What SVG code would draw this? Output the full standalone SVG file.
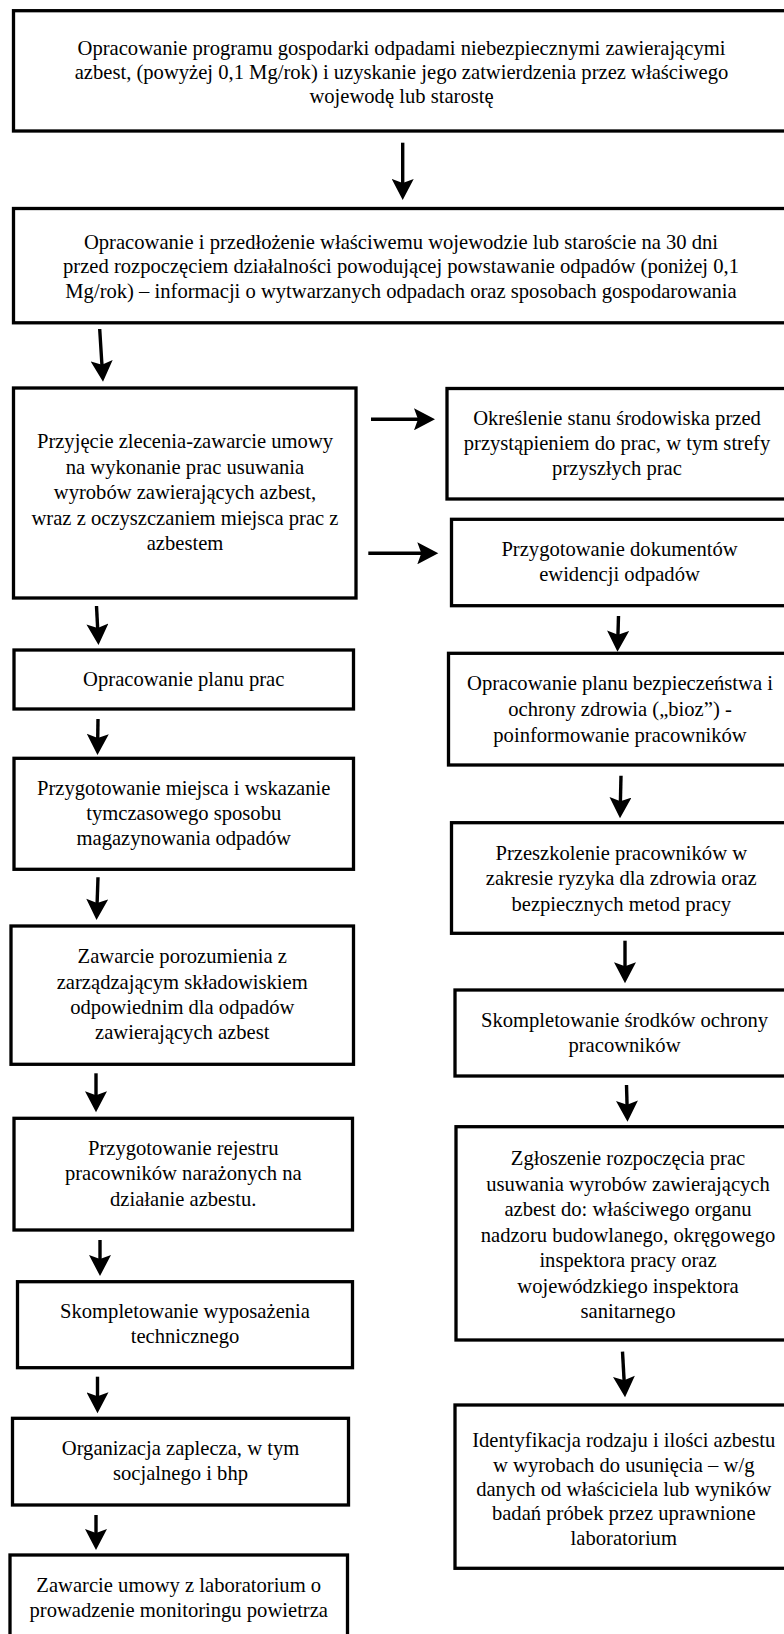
<svg xmlns="http://www.w3.org/2000/svg" width="784" height="1634" viewBox="0 0 784 1634">
<style>
.box{fill:#fff;stroke:#000;stroke-width:3.3}
.t{font-family:"Liberation Serif","Times New Roman",serif;font-size:20.6px;fill:#000;text-anchor:middle}
.c{stroke:#000;stroke-width:3.4;fill:none;marker-end:url(#ah)}
</style>
<defs>
<marker id="ah" markerUnits="userSpaceOnUse" markerWidth="22" markerHeight="22" viewBox="0 0 21 22" refX="13" refY="11" orient="auto">
<path d="M0,0 L21,11 L0,22 L4,11 Z" fill="#000"/>
</marker>
</defs>
<rect width="784" height="1634" fill="#fff"/>
<g id="connectors">
<line class="c" x1="402.7" y1="142.7" x2="402.7" y2="192"/>
<line class="c" x1="99.7" y1="329" x2="102.5" y2="373.7"/>
<line class="c" x1="371" y1="419.3" x2="427" y2="419.3"/>
<line class="c" x1="368.3" y1="553.3" x2="430.3" y2="553.3"/>
<line class="c" x1="96.5" y1="606" x2="98.1" y2="637"/>
<line class="c" x1="98" y1="719" x2="97.6" y2="747"/>
<line class="c" x1="98" y1="877.3" x2="96.8" y2="912"/>
<line class="c" x1="96" y1="1073.3" x2="96" y2="1104.3"/>
<line class="c" x1="100" y1="1240" x2="100" y2="1268"/>
<line class="c" x1="97.5" y1="1376.7" x2="97.5" y2="1405.3"/>
<line class="c" x1="96" y1="1515" x2="96" y2="1542"/>
<line class="c" x1="618.5" y1="616" x2="617.7" y2="643.7"/>
<line class="c" x1="621" y1="775.7" x2="620.2" y2="810.3"/>
<line class="c" x1="625" y1="940.7" x2="625" y2="975.3"/>
<line class="c" x1="626.5" y1="1085" x2="627.3" y2="1113.7"/>
<line class="c" x1="622.5" y1="1351.7" x2="624.6" y2="1389.3"/>
</g>
<g id="n1">
<rect class="box" x="13.5" y="10.7" width="776.5" height="120.3"/>
<text class="t" x="401.5" y="55">Opracowanie programu gospodarki odpadami niebezpiecznymi zawierającymi</text>
<text class="t" x="401.5" y="79.2">azbest, (powyżej 0,1 Mg/rok) i uzyskanie jego zatwierdzenia przez właściwego</text>
<text class="t" x="401.5" y="103.4">wojewodę lub starostę</text>
</g>
<g id="n2">
<rect class="box" x="13.5" y="208.5" width="776.5" height="114.3"/>
<text class="t" x="401" y="248.5">Opracowanie i przedłożenie właściwemu wojewodzie lub staroście na 30 dni</text>
<text class="t" x="401" y="273">przed rozpoczęciem działalności powodującej powstawanie odpadów (poniżej 0,1</text>
<text class="t" x="401" y="297.5">Mg/rok) – informacji o wytwarzanych odpadach oraz sposobach gospodarowania</text>
</g>
<g id="n3">
<rect class="box" x="13.5" y="388" width="342.5" height="210"/>
<text class="t" x="185" y="448.3">Przyjęcie zlecenia-zawarcie umowy</text>
<text class="t" x="185" y="473.7">na wykonanie prac usuwania</text>
<text class="t" x="185" y="499.1">wyrobów zawierających azbest,</text>
<text class="t" x="185" y="524.5">wraz z oczyszczaniem miejsca prac z</text>
<text class="t" x="185" y="549.9">azbestem</text>
</g>
<g id="n4">
<rect class="box" x="447" y="388.5" width="341" height="110.5"/>
<text class="t" x="617" y="424.9">Określenie stanu środowiska przed</text>
<text class="t" x="617" y="449.9">przystąpieniem do prac, w tym strefy</text>
<text class="t" x="617" y="474.9">przyszłych prac</text>
</g>
<g id="n5">
<rect class="box" x="451.5" y="519.3" width="336.5" height="86.4"/>
<text class="t" x="619.5" y="556">Przygotowanie dokumentów</text>
<text class="t" x="619.5" y="581.3">ewidencji odpadów</text>
</g>
<g id="n6">
<rect class="box" x="14" y="650" width="339.5" height="59"/>
<text class="t" x="183.75" y="685.7">Opracowanie planu prac</text>
</g>
<g id="n7">
<rect class="box" x="14" y="758.3" width="339.5" height="111"/>
<text class="t" x="183.75" y="794.9">Przygotowanie miejsca i wskazanie</text>
<text class="t" x="183.75" y="819.9">tymczasowego sposobu</text>
<text class="t" x="183.75" y="844.9">magazynowania odpadów</text>
</g>
<g id="n8">
<rect class="box" x="11" y="926" width="342.5" height="138.3"/>
<text class="t" x="182.25" y="963.3">Zawarcie porozumienia z</text>
<text class="t" x="182.25" y="988.6">zarządzającym składowiskiem</text>
<text class="t" x="182.25" y="1013.9">odpowiednim dla odpadów</text>
<text class="t" x="182.25" y="1039.2">zawierających azbest</text>
</g>
<g id="n9">
<rect class="box" x="14" y="1118.3" width="338.5" height="111.7"/>
<text class="t" x="183.25" y="1155">Przygotowanie rejestru</text>
<text class="t" x="183.25" y="1180.4">pracowników narażonych na</text>
<text class="t" x="183.25" y="1205.8">działanie azbestu.</text>
</g>
<g id="n10">
<rect class="box" x="17.5" y="1281.7" width="335" height="86"/>
<text class="t" x="185" y="1318.3">Skompletowanie wyposażenia</text>
<text class="t" x="185" y="1343.3">technicznego</text>
</g>
<g id="n11">
<rect class="box" x="12.5" y="1418.3" width="336" height="86.7"/>
<text class="t" x="180.5" y="1454.9">Organizacja zaplecza, w tym</text>
<text class="t" x="180.5" y="1479.9">socjalnego i bhp</text>
</g>
<g id="n12">
<rect class="box" x="10" y="1555" width="337.5" height="90"/>
<text class="t" x="178.75" y="1591.6">Zawarcie umowy z laboratorium o</text>
<text class="t" x="178.75" y="1616.6">prowadzenie monitoringu powietrza</text>
</g>
<g id="n13">
<rect class="box" x="448.5" y="653.3" width="343" height="111.7"/>
<text class="t" x="620" y="689.9">Opracowanie planu bezpieczeństwa i</text>
<text class="t" x="620" y="715.75">ochrony zdrowia („bioz”) -</text>
<text class="t" x="620" y="741.6">poinformowanie pracowników</text>
</g>
<g id="n14">
<rect class="box" x="451.5" y="822.7" width="339.5" height="110.6"/>
<text class="t" x="621.25" y="860">Przeszkolenie pracowników w</text>
<text class="t" x="621.25" y="885.3">zakresie ryzyka dla zdrowia oraz</text>
<text class="t" x="621.25" y="910.6">bezpiecznych metod pracy</text>
</g>
<g id="n15">
<rect class="box" x="455" y="990" width="339" height="86"/>
<text class="t" x="624.5" y="1027.1">Skompletowanie środków ochrony</text>
<text class="t" x="624.5" y="1052.1">pracowników</text>
</g>
<g id="n16">
<rect class="box" x="456" y="1126.7" width="344" height="213.3"/>
<text class="t" x="628" y="1164.9">Zgłoszenie rozpoczęcia prac</text>
<text class="t" x="628" y="1190.5">usuwania wyrobów zawierających</text>
<text class="t" x="628" y="1216">azbest do: właściwego organu</text>
<text class="t" x="628" y="1241.6">nadzoru budowlanego, okręgowego</text>
<text class="t" x="628" y="1267.2">inspektora pracy oraz</text>
<text class="t" x="628" y="1292.8">wojewódzkiego inspektora</text>
<text class="t" x="628" y="1318.3">sanitarnego</text>
</g>
<g id="n17">
<rect class="box" x="455" y="1405" width="337.5" height="163.3"/>
<text class="t" x="623.75" y="1447.1">Identyfikacja rodzaju i ilości azbestu</text>
<text class="t" x="623.75" y="1471.5">w wyrobach do usunięcia – w/g</text>
<text class="t" x="623.75" y="1495.9">danych od właściciela lub wyników</text>
<text class="t" x="623.75" y="1520.3">badań próbek przez uprawnione</text>
<text class="t" x="623.75" y="1544.7">laboratorium</text>
</g>
</svg>
